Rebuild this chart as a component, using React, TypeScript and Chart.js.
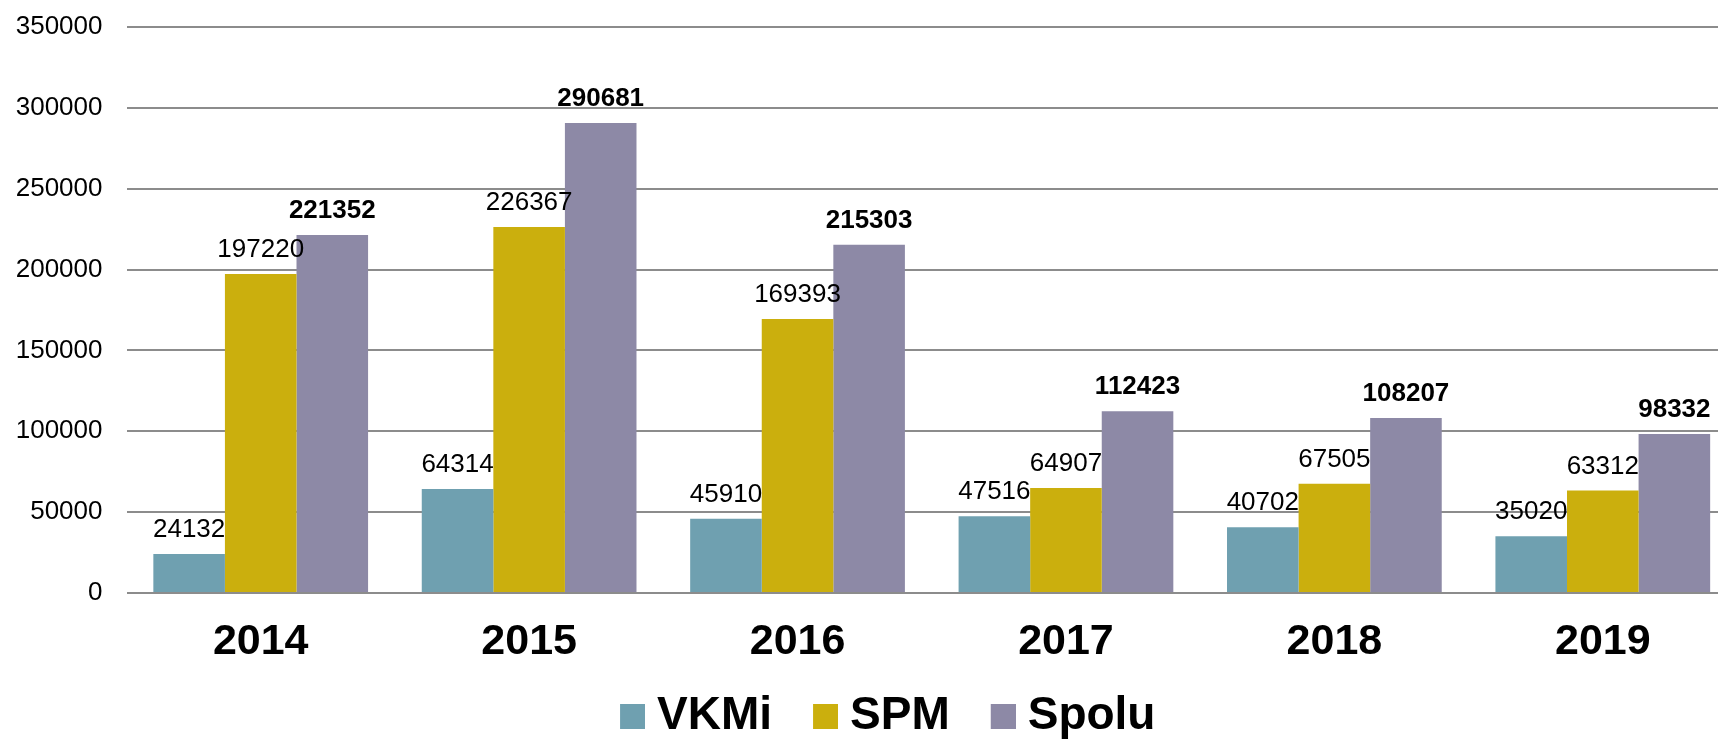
import React, { useEffect, useRef } from "react";
import { Chart, registerables } from "chart.js";

Chart.register(...registerables);

const categories = ["2014", "2015", "2016", "2017", "2018", "2019"];
const vkmiValues = [24132, 64314, 45910, 47516, 40702, 35020];
const spmValues = [197220, 226367, 169393, 64907, 67505, 63312];
const spoluValues = [221352, 290681, 215303, 112423, 108207, 98332];
const seriesNames = ["VKMi", "SPM", "Spolu"];
const seriesColors = ["#6FA0B0", "#CBAF0D", "#8D89A6"];
const boldLabelSeries = [false, false, true];

const FONT = '"Liberation Sans", Arial, Helvetica, sans-serif';

// legend marker: a transparent strip with the colour square at its right end
function makeMarker(color: string) {
  const c = document.createElement("canvas");
  c.width = 68;
  c.height = 25;
  const g = c.getContext("2d");
  if (g) {
    g.fillStyle = color;
    g.fillRect(43, 0, 25, 25);
  }
  return c;
}

const valueLabelPlugin = {
  id: "valueLabels",
  afterDatasetsDraw(chart: any) {
    const ctx = chart.ctx;
    chart.data.datasets.forEach((ds: any, i: number) => {
      const meta = chart.getDatasetMeta(i);
      ctx.save();
      ctx.font = `${boldLabelSeries[i] ? "bold " : ""}26px ${FONT}`;
      ctx.fillStyle = "#000000";
      ctx.textAlign = "center";
      ctx.textBaseline = "alphabetic";
      meta.data.forEach((el: any, j: number) => {
        ctx.fillText(String(ds.data[j]), el.x, el.y - 17);
      });
      ctx.restore();
    });
  },
};

export default function App() {
  const canvasRef = useRef<HTMLCanvasElement | null>(null);

  useEffect(() => {
    if (!canvasRef.current) return;
    const seriesData = [vkmiValues, spmValues, spoluValues];
    const markers = seriesColors.map(makeMarker);
    const chart = new Chart(canvasRef.current, {
      type: "bar",
      data: {
        labels: categories,
        datasets: seriesNames.map((name, i) => ({
          label: name,
          data: seriesData[i],
          backgroundColor: seriesColors[i],
          borderWidth: 0,
          categoryPercentage: 0.8,
          barPercentage: 1.0,
        })),
      },
      options: {
        responsive: false,
        animation: false,
        devicePixelRatio: 1,
        layout: { padding: { left: 6.5, right: 0, top: 27, bottom: 0.5 } },
        plugins: {
          tooltip: { enabled: false },
          legend: {
            position: "bottom",
            labels: {
              usePointStyle: true,
              boxWidth: 46,
              boxHeight: 25,
              padding: 9,
              color: "#000000",
              font: { family: FONT, size: 46, weight: "bold" },
              generateLabels: (ch: any) => {
                const items = Chart.defaults.plugins.legend.labels.generateLabels(ch);
                items.forEach((it: any, i: number) => {
                  it.pointStyle = markers[i];
                  it.lineWidth = 0;
                });
                return items;
              },
            },
          },
        },
        scales: {
          x: {
            grid: { display: false, drawTicks: false },
            border: { display: false },
            ticks: {
              color: "#000000",
              padding: 23.7,
              maxRotation: 0,
              autoSkip: false,
              font: { family: FONT, size: 43, weight: "bold" },
            },
            afterFit: (scale: any) => {
              scale.height = 91.5;
            },
          },
          y: {
            min: 0,
            max: 350000,
            grid: { color: "#8C8C8C", lineWidth: 2, drawTicks: false },
            border: { display: false },
            ticks: {
              stepSize: 50000,
              padding: 24,
              color: "#000000",
              font: { family: FONT, size: 26 },
              callback: (v: any) => String(v),
            },
            afterFit: (scale: any) => {
              scale.width = 120;
              scale.paddingTop = 0;
              scale.paddingBottom = 0;
            },
          },
        },
      },
      plugins: [valueLabelPlugin],
    });
    return () => chart.destroy();
  }, []);

  return (
    <div
      style={{
        position: "fixed",
        left: 0,
        top: 0,
        width: 1718,
        height: 739,
        overflow: "hidden",
        background: "#ffffff",
      }}
    >
      <canvas
        ref={canvasRef}
        width={1737}
        height={750}
        style={{ position: "absolute", left: 0, top: 0, width: 1737, height: 750 }}
      />
    </div>
  );
}
